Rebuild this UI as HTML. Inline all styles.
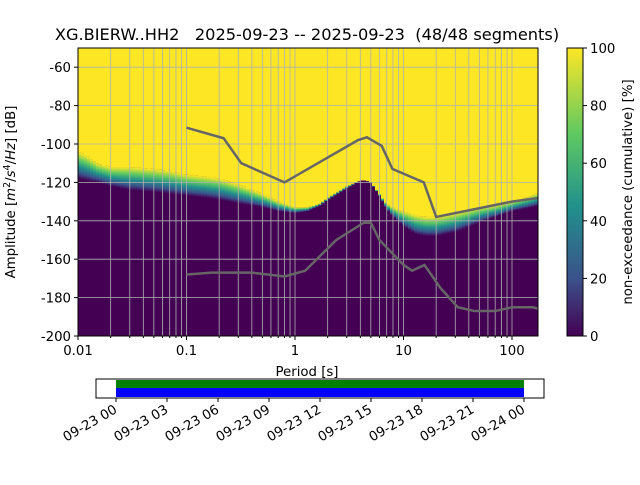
<!DOCTYPE html>
<html><head><meta charset="utf-8"><style>
body{margin:0;background:#fff;}
svg text{font-family:"DejaVu Sans","Liberation Sans",sans-serif;fill:#000;}
</style></head><body>
<svg id="c" width="640" height="480" viewBox="0 0 640 480" xmlns="http://www.w3.org/2000/svg">
<defs>
<linearGradient id="vir" x1="0" y1="1" x2="0" y2="0">
<stop offset="0" stop-color="#440154"/><stop offset="0.2" stop-color="#3b528b"/><stop offset="0.45" stop-color="#21918c"/><stop offset="0.7" stop-color="#5ec962"/><stop offset="1" stop-color="#fde725"/>
</linearGradient>
<clipPath id="pc"><rect x="78" y="48" width="460" height="288"/></clipPath>
</defs>
<text x="307" y="40" font-size="16.2" text-anchor="middle" xml:space="preserve">XG.BIERW..HH2   2025-09-23 -- 2025-09-23  (48/48 segments)</text>
<g id="heat" clip-path="url(#pc)"></g>
<g id="grid" clip-path="url(#pc)"></g>
<g id="models" clip-path="url(#pc)"></g>
<rect x="78" y="48" width="460" height="288" fill="none" stroke="#000" stroke-width="1"/>
<g id="axes"></g>
<text x="307" y="376" font-size="13.3" text-anchor="middle">Period [s]</text>
<text transform="translate(15,192) rotate(-90)" font-size="13.3" text-anchor="middle">Amplitude [<tspan font-style="italic">m</tspan><tspan font-size="9.5" dy="-5">2</tspan><tspan dy="5">/</tspan><tspan font-style="italic">s</tspan><tspan font-size="9.5" dy="-5">4</tspan><tspan dy="5">/</tspan><tspan font-style="italic">Hz</tspan>] [dB]</text>
<rect x="567" y="48" width="16" height="288" fill="url(#vir)" stroke="#000" stroke-width="1"/>
<g id="cbt"></g>
<text transform="translate(632,192) rotate(-90)" font-size="13.3" text-anchor="middle">non-exceedance (cumulative) [%]</text>
<rect x="96" y="379" width="448" height="19" fill="#fff" stroke="#000"/>
<rect x="116" y="380" width="408" height="8" fill="#008000"/>
<rect x="116" y="388" width="408" height="9" fill="#0000ff"/>
<g id="tt"></g>
</svg>
<script>
const periods=[0.01,0.012,0.015,0.02,0.03,0.05,0.07,0.1,0.15,0.2,0.3,0.5,0.7,1,1.3,1.7,2,3,4,4.5,5,6,7,8,10,13,16,20,30,50,70,100,150,180];
const purpleTop=[-118,-119,-120,-122,-124,-125,-126,-127,-128,-129,-131,-133,-135,-136,-135,-132,-129,-123,-119,-119,-120,-127,-134,-138,-143,-147,-148,-148,-146,-141,-138,-135,-133,-132];
const yellowBottom=[-104,-106,-110,-112,-112,-113,-114,-116,-117,-118,-121,-126,-130,-133,-133,-131,-128,-122,-119,-119,-120,-126,-131,-133,-135,-137,-138,-138,-136,-133,-132,-130,-127,-125];
const nhnmP=[0.1,0.22,0.32,0.8,3.8,4.6,6.3,7.9,15.4,20,100,180];
const nhnmV=[-91.5,-97,-110,-120,-98,-96.5,-101,-113,-120,-138,-130,-128];
const nlnmP=[0.1,0.17,0.4,0.8,1.24,2.4,4.3,5,6,10,12,15.6,21.9,31.6,45,70,101,154,180];
const nlnmV=[-168,-167,-167,-169,-166,-150,-141,-141,-150,-163,-166,-163,-175,-185,-187,-187,-185,-185,-186];
const yTicks=[-60,-80,-100,-120,-140,-160,-180,-200];
const xTicks=[0.01,0.1,1,10,100];
const xTickLabels=["0.01","0.1","1","10","100"];
const cbTicks=[0,20,40,60,80,100];
const timeLabels=["09-23 00","09-23 03","09-23 06","09-23 09","09-23 12","09-23 15","09-23 18","09-23 21","09-24 00"];
const NS="http://www.w3.org/2000/svg";
const X=p=>78+(Math.log10(p)+2)*108.5;
const Y=v=>336-(v+200)*288/150;
function mk(t,a,parent){const e=document.createElementNS(NS,t);for(const k in a)e.setAttribute(k,a[k]);parent.appendChild(e);return e;}
function interp(P,V,p){const lp=Math.log10(p);
  if(p<=P[0])return V[0];
  for(let i=0;i<P.length-1;i++){const a=Math.log10(P[i]),b=Math.log10(P[i+1]);
    if(lp<=b){const t=(lp-a)/(b-a);return V[i]+t*(V[i+1]-V[i]);}}
  return V[V.length-1];}
const heat=document.getElementById('heat');
mk('rect',{x:78,y:48,width:460,height:288,fill:'#440154'},heat);
const step=3;
for(let x0=78;x0<538;x0+=step){
  const p=Math.pow(10,(x0+step/2-78)/108.5-2);
  const yb=Y(interp(periods,yellowBottom,p)),pt=Y(interp(periods,purpleTop,p));
  const r1=mk('rect',{x:x0,y:48,width:step+0.5,height:yb-48,fill:'#fde725'},heat);
  
  
  if(pt-yb>0.5){const r2=mk('rect',{x:x0,y:yb,width:step+0.5,height:pt-yb,fill:'url(#vir)'},heat);
  
  }
}
const grid=document.getElementById('grid');
for(let d=-2;d<=2;d++)for(let m=1;m<=9;m++){const p=m*Math.pow(10,d);if(p>180)continue;
  mk('line',{x1:X(p),x2:X(p),y1:48,y2:336,stroke:'#b0b0b0','stroke-width':0.8},grid);}
yTicks.forEach(v=>mk('line',{x1:78,x2:538,y1:Y(v),y2:Y(v),stroke:'#b0b0b0','stroke-width':0.8},grid));
const models=document.getElementById('models');
function line(P,V,name){const l=mk('polyline',{points:P.map((p,i)=>X(p)+','+Y(V[i])).join(' '),fill:'none',stroke:'#666','stroke-width':2.5},models);
  
  }
line(nhnmP,nhnmV,'nhnm-line');line(nlnmP,nlnmV,'nlnm-line');
const ax=document.getElementById('axes');
yTicks.forEach(v=>{mk('line',{x1:74,x2:78,y1:Y(v),y2:Y(v),stroke:'#000'},ax);
  const t=mk('text',{x:71,y:Y(v)+5,'font-size':13.3,'text-anchor':'end'},ax);t.textContent=v;
  
  });
xTicks.forEach((p,i)=>{mk('line',{x1:X(p),x2:X(p),y1:336,y2:340,stroke:'#000'},ax);
  const t=mk('text',{x:X(p),y:355,'font-size':13.3,'text-anchor':'middle'},ax);t.textContent=xTickLabels[i];
  
  });
for(let d=-2;d<=2;d++)for(let m=2;m<=9;m++){const p=m*Math.pow(10,d);if(p>180)continue;
  mk('line',{x1:X(p),x2:X(p),y1:336,y2:338,stroke:'#000'},ax);}
const cb=document.getElementById('cbt');
cbTicks.forEach(v=>{const y=336-v*2.88;mk('line',{x1:583,x2:587,y1:y,y2:y,stroke:'#000'},cb);
  const t=mk('text',{x:590,y:y+5,'font-size':13.3},cb);t.textContent=v;
  
  });
const tt=document.getElementById('tt');
timeLabels.forEach((s,i)=>{const x=116+i*51;mk('line',{x1:x,x2:x,y1:398,y2:402,stroke:'#000'},tt);
  const t=mk('text',{transform:`translate(${x+2},${412}) rotate(-30)`,'font-size':13.3,'text-anchor':'end'},tt);t.textContent=s;
  
  });
</script>
</body></html>
